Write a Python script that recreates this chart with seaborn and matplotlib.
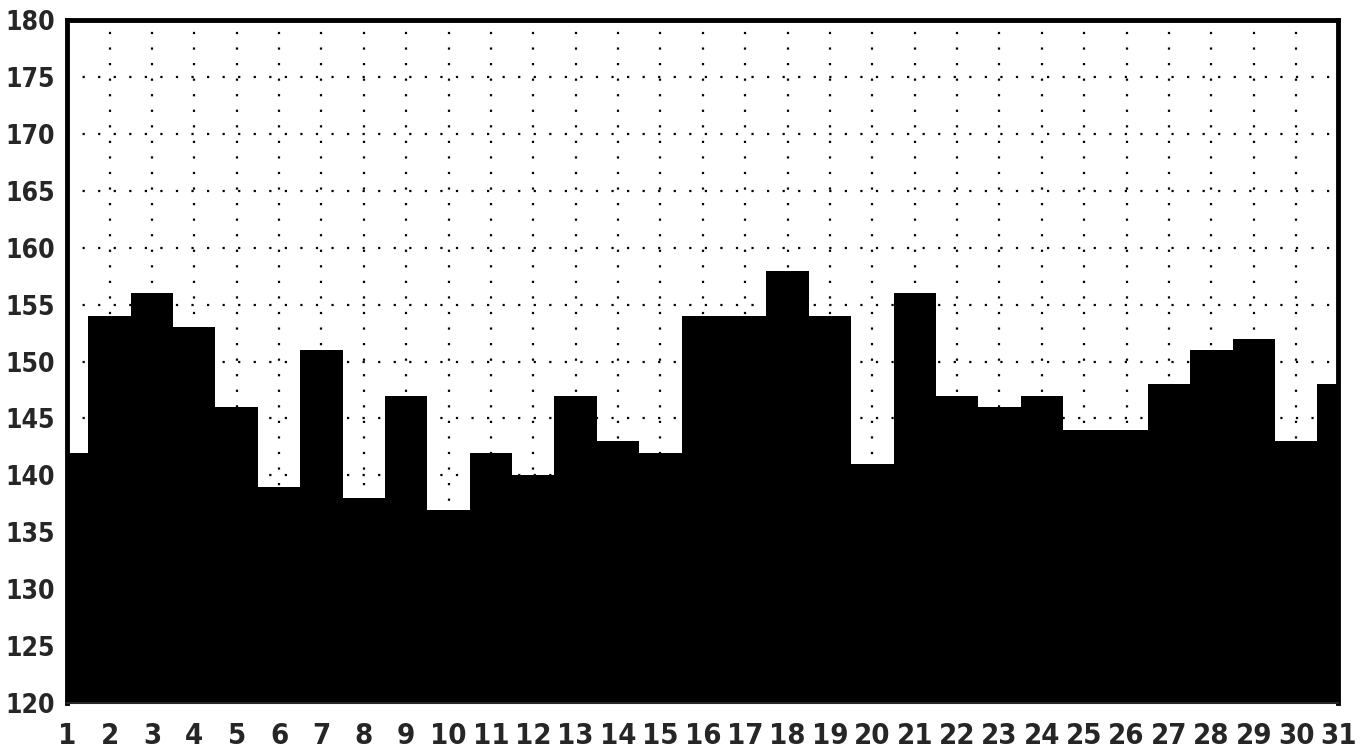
import numpy as np
import pandas as pd
import matplotlib
matplotlib.use("Agg")
import matplotlib.pyplot as plt
from matplotlib import font_manager
import seaborn as sns

# daily values, day 1..31
days = list(range(1, 32))
values = [142, 154, 156, 153, 146, 139, 151, 138, 147, 137,
          142, 140, 147, 143, 142, 154, 154, 158, 154, 141,
          156, 147, 146, 147, 144, 144, 148, 151, 152, 143, 148]
yticks = list(range(120, 181, 5))

df = pd.DataFrame({"day": days, "value": values})

sns.set_style("white")
names = set(f.name for f in font_manager.fontManager.ttflist)
fams = [n for n in ['Liberation Sans Narrow', 'DejaVu Sans Condensed', 'DejaVu Sans'] if n in names]
plt.rcParams['font.family'] = fams
plt.rcParams['font.weight'] = 'bold'

fig = plt.figure(figsize=(13.7, 7.51), dpi=100)
ax = fig.add_axes([0.049, 0.064, 0.928, 0.909])

sns.barplot(data=df, x="day", y="value", color="black", saturation=1,
            width=1.0, edgecolor="black", linewidth=0, ax=ax, zorder=2)

ax.set_xlim(0, len(days) - 1)
ax.set_ylim(120, 180)
ax.set_yticks(yticks)
ax.set_yticklabels([str(t) for t in yticks])
ax.set_xticks(range(len(days)))
ax.set_xticklabels([str(d) for d in days])

ax.grid(True, color="black", linestyle=(0, (1, 6)), linewidth=1.6, zorder=1)
ax.set_axisbelow(True)

for side in ["left", "top", "right"]:
    ax.spines[side].set_linewidth(3.5)
    ax.spines[side].set_color("black")
ax.spines["bottom"].set_linewidth(1.5)

ax.tick_params(axis="both", direction="out", length=7, width=2, color="black")
ax.tick_params(axis="y", labelsize=19, pad=2)
ax.tick_params(axis="x", labelsize=21, pad=5, length=9)
ax.set_xlabel("")
ax.set_ylabel("")
for lab in ax.get_xticklabels() + ax.get_yticklabels():
    lab.set_fontweight("bold")
    lab.set_fontstretch("condensed")

fig.savefig("out.png", dpi=100)
